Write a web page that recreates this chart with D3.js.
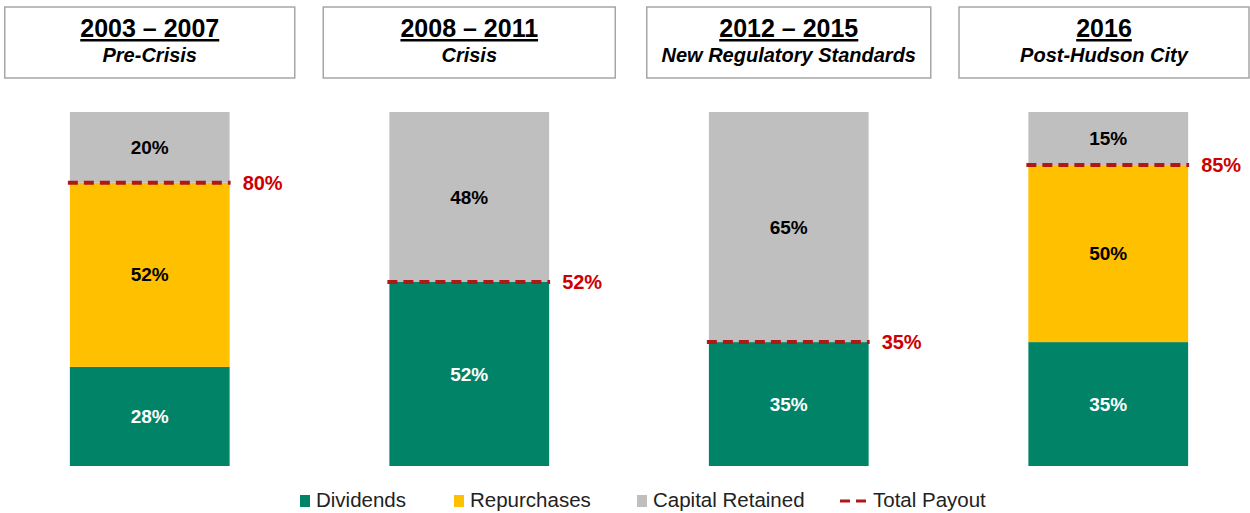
<!DOCTYPE html>
<html>
<head>
<meta charset="utf-8">
<script src="https://cdn.jsdelivr.net/npm/d3@7"></script>
<style>
  body { margin: 0; background: #fff; }
  svg { font-family: "Liberation Sans", Arial, sans-serif; }
</style>
</head>
<body>
<svg width="1250" height="513"></svg>
<script>
const periods = ["2003 – 2007", "2008 – 2011", "2012 – 2015", "2016"]
const subtitles = ["Pre-Crisis", "Crisis", "New Regulatory Standards", "Post-Hudson City"]
const dividends = [28, 52, 35, 35]
const repurchases = [52, 0, 0, 50]
const retained = [20, 48, 65, 15]
const payout = [80, 52, 35, 85]

const seriesKeys = ["Dividends", "Repurchases", "Capital Retained"]
const colors = ["#008366", "#FFC000", "#BFBFBF"]
const labelColors = ["#fff", "#000", "#000"]

const rows = periods.map((p, i) => ({
  period: p,
  "Dividends": dividends[i],
  "Repurchases": repurchases[i],
  "Capital Retained": retained[i]
}))

const svg = d3.select("svg")

const x = d3.scaleBand()
  .domain(periods)
  .range([-10, 1268])
  .paddingInner(0.5)
  .paddingOuter(0.25)

const y = d3.scaleLinear().domain([0, 100]).range([466, 112])

const stacked = d3.stack().keys(seriesKeys)(rows)

// header boxes
const boxW = [290, 292, 284, 290]
const head = svg.append("g").selectAll("g")
  .data(periods)
  .enter().append("g")
  .attr("transform", (d, i) => {
    let cx = x(d) + x.bandwidth() / 2
    let left = Math.min(cx - boxW[i] / 2, 1249 - boxW[i])
    return "translate(" + left + ",7)"
  })
head.append("rect")
  .attr("width", (d, i) => boxW[i])
  .attr("height", 71)
  .attr("fill", "#fff")
  .attr("stroke", "#a6a6a6")
  .attr("stroke-width", 1.5)
head.append("text")
  .attr("x", (d, i) => boxW[i] / 2)
  .attr("y", 30)
  .attr("text-anchor", "middle")
  .attr("font-size", 25)
  .attr("font-weight", "bold")
  .attr("text-decoration", "underline")
  .text(d => d)
head.append("text")
  .attr("x", (d, i) => boxW[i] / 2)
  .attr("y", 55)
  .attr("text-anchor", "middle")
  .attr("font-size", 20)
  .attr("font-weight", "bold")
  .attr("font-style", "italic")
  .text((d, i) => subtitles[i])

// bars
const layer = svg.append("g").selectAll("g")
  .data(stacked)
  .enter().append("g")
  .attr("fill", (d, i) => colors[i])

layer.selectAll("rect")
  .data(d => d)
  .enter().append("rect")
  .attr("x", d => x(d.data.period))
  .attr("width", x.bandwidth())
  .attr("y", d => y(d[1]))
  .attr("height", d => y(d[0]) - y(d[1]))

layer.selectAll("text")
  .data(d => d.filter(s => s[1] - s[0] > 0))
  .enter().append("text")
  .attr("x", d => x(d.data.period) + x.bandwidth() / 2)
  .attr("y", d => (y(d[0]) + y(d[1])) / 2)
  .attr("dy", "0.35em")
  .attr("text-anchor", "middle")
  .attr("font-size", 19)
  .attr("font-weight", "bold")
  .attr("fill", function() { return labelColors[seriesKeys.indexOf(d3.select(this.parentNode).datum().key)] })
  .text(d => (d[1] - d[0]) + "%")

// total payout lines
const pay = svg.append("g").selectAll("g")
  .data(payout)
  .enter().append("g")
pay.append("line")
  .attr("x1", (d, i) => x(periods[i]) - 2)
  .attr("x2", (d, i) => x(periods[i]) + x.bandwidth() + 1)
  .attr("y1", d => y(d))
  .attr("y2", d => y(d))
  .attr("stroke", "#B01818")
  .attr("stroke-width", 4)
  .attr("stroke-dasharray", "10,6")
pay.append("text")
  .attr("x", (d, i) => x(periods[i]) + x.bandwidth() + 13)
  .attr("y", d => y(d))
  .attr("dy", "0.35em")
  .attr("font-size", 20)
  .attr("font-weight", "bold")
  .attr("fill", "#CC0000")
  .text(d => d + "%")

// legend
const legX = [300, 454, 637]
const legend = svg.append("g")
seriesKeys.forEach((k, i) => {
  legend.append("rect")
    .attr("x", legX[i]).attr("y", 495)
    .attr("width", 10).attr("height", 12)
    .attr("fill", colors[i])
  legend.append("text")
    .attr("x", legX[i] + 16).attr("y", 507)
    .attr("font-size", 20.5)
    .attr("fill", "#222")
    .text(k)
})
legend.append("line")
  .attr("x1", 840).attr("x2", 867)
  .attr("y1", 501).attr("y2", 501)
  .attr("stroke", "#B01818")
  .attr("stroke-width", 3)
  .attr("stroke-dasharray", "10,6")
legend.append("text")
  .attr("x", 873).attr("y", 507)
  .attr("font-size", 20.5)
  .attr("fill", "#222")
  .text("Total Payout")
</script>
</body>
</html>
